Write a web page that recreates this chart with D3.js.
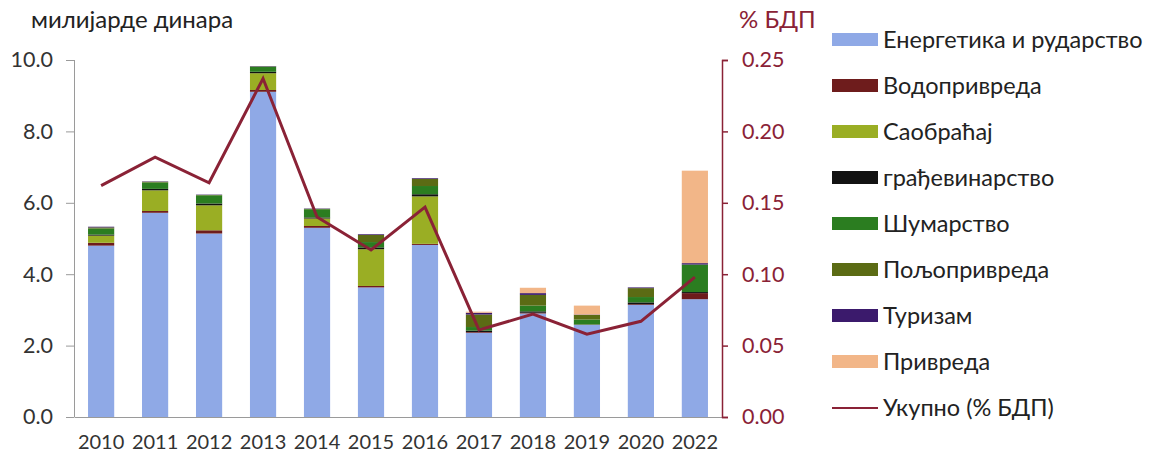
<!DOCTYPE html>
<html>
<head>
<meta charset="utf-8">
<script src="https://cdn.jsdelivr.net/npm/d3@7"></script>
<style>
  body { margin: 0; background: #fff; }
  text { font-family: Lato, "Open Sans", sans-serif; }
</style>
</head>
<body>
<div id="chart"></div>
<script>
// years on the x axis
var years = ["2010","2011","2012","2013","2014","2015","2016","2017","2018","2019","2020","2022"];

// series, milliards of dinars
var energetika   = [4.80, 5.72, 5.14, 9.11, 5.30, 3.63, 4.82, 2.36, 2.90, 2.58, 3.14, 3.30];
var vodoprivreda = [0.08, 0.05, 0.09, 0.05, 0.05, 0.04, 0.03, 0.02, 0.02, 0.01, 0.02, 0.17];
var saobracaj    = [0.20, 0.58, 0.70, 0.47, 0.21, 1.03, 1.33, 0.00, 0.00, 0.00, 0.00, 0.00];
var gradjevin    = [0.03, 0.04, 0.05, 0.04, 0.03, 0.05, 0.06, 0.04, 0.04, 0.00, 0.05, 0.03];
var sumarstvo    = [0.17, 0.18, 0.23, 0.14, 0.23, 0.15, 0.23, 0.10, 0.16, 0.14, 0.15, 0.77];
var poljopr      = [0.03, 0.02, 0.01, 0.01, 0.01, 0.20, 0.20, 0.35, 0.30, 0.13, 0.25, 0.00];
var turizam      = [0.02, 0.01, 0.01, 0.01, 0.01, 0.02, 0.02, 0.05, 0.05, 0.01, 0.02, 0.04];
var privreda     = [0.00, 0.00, 0.00, 0.00, 0.00, 0.00, 0.00, 0.03, 0.15, 0.25, 0.00, 2.59];

// total, % of GDP (right axis)
var ukupnoBDP    = [0.162, 0.182, 0.164, 0.237, 0.140, 0.117, 0.147, 0.061, 0.072, 0.058, 0.067, 0.098];

var leftTicks  = [0, 2, 4, 6, 8, 10];
var rightTicks = [0, 0.05, 0.10, 0.15, 0.20, 0.25];

var series = [
  {name: "Енергетика и рударство", values: energetika,   color: "#8fa9e6"},
  {name: "Водопривреда",           values: vodoprivreda, color: "#6e1c1c"},
  {name: "Саобраћај",              values: saobracaj,    color: "#9aae24"},
  {name: "грађевинарство",         values: gradjevin,    color: "#121212"},
  {name: "Шумарство",              values: sumarstvo,    color: "#2b7d20"},
  {name: "Пољопривреда",           values: poljopr,      color: "#5b6b14"},
  {name: "Туризам",                values: turizam,      color: "#3b1a6c"},
  {name: "Привреда",               values: privreda,     color: "#f2b688"}
];
var lineColor = "#8a2236";

var width = 1157, height = 461;
var margin = {top: 60, right: 435, bottom: 44, left: 74};
var innerW = width - margin.left - margin.right,
    innerH = height - margin.top - margin.bottom;

var svg = d3.select("#chart").append("svg")
    .attr("width", width)
    .attr("height", height);

var g = svg.append("g")
    .attr("transform", "translate(" + margin.left + "," + margin.top + ")");

var x = d3.scaleBand().domain(years).range([0, innerW]).paddingInner(0.515).paddingOuter(0.26);
var y = d3.scaleLinear().domain([0, 10]).range([innerH, 0]);
var y2 = d3.scaleLinear().domain([0, 0.25]).range([innerH, 0]);

// stack the series
var table = years.map(function (yr, i) {
  var row = {year: yr};
  series.forEach(function (s) { row[s.name] = s.values[i]; });
  return row;
});
var stack = d3.stack().keys(series.map(function (s) { return s.name; }));
var layers = stack(table);

g.selectAll("g.layer")
  .data(layers)
  .enter().append("g")
  .attr("class", "layer")
  .attr("fill", function (d, i) { return series[i].color; })
  .selectAll("rect")
  .data(function (d) { return d; })
  .enter().append("rect")
  .attr("x", function (d) { return x(d.data.year); })
  .attr("width", x.bandwidth())
  .attr("y", function (d) { return y(d[1]); })
  .attr("height", function (d) { return Math.max(0, y(d[0]) - y(d[1])); });

// left axis
var leftAxis = g.append("g")
  .call(d3.axisLeft(y).tickValues(leftTicks).tickFormat(d3.format(".1f")).tickSize(8).tickPadding(13));
leftAxis.select(".domain").attr("stroke", "#9a9a9a").attr("d", "M0.5," + innerH + "V0");
leftAxis.selectAll(".tick line").attr("stroke", "#9a9a9a");
leftAxis.selectAll(".tick text").attr("fill", "#333").style("font-size", "21.5px");

// bottom axis
var bottom = g.append("g")
  .attr("transform", "translate(0," + innerH + ")")
  .call(d3.axisBottom(x).tickSize(0).tickPadding(18));
bottom.select(".domain").attr("stroke", "#9a9a9a");
bottom.selectAll(".tick text").attr("fill", "#333").style("font-size", "20px");

// right axis
var rightAxis = g.append("g")
  .attr("transform", "translate(" + innerW + ",0)")
  .call(d3.axisRight(y2).tickValues(rightTicks).tickFormat(d3.format(".2f")).tickSize(6).tickPadding(14));
rightAxis.select(".domain").attr("stroke", lineColor).attr("stroke-width", 1.5);
rightAxis.selectAll(".tick line").attr("stroke", lineColor).attr("stroke-width", 1.5);
rightAxis.selectAll(".tick text").attr("fill", lineColor).style("font-size", "21.5px");

// total line
var line = d3.line()
  .x(function (d, i) { return x(years[i]) + x.bandwidth() / 2; })
  .y(function (d) { return y2(d); });
g.append("path")
  .datum(ukupnoBDP)
  .attr("fill", "none")
  .attr("stroke", lineColor)
  .attr("stroke-width", 3)
  .attr("stroke-linejoin", "miter")
  .attr("d", line);

// axis titles
svg.append("text")
  .attr("x", 31).attr("y", 28)
  .attr("fill", "#222")
  .style("font-size", "24px")
  .text("милијарде динара");
svg.append("text")
  .attr("x", 739).attr("y", 28)
  .attr("fill", lineColor)
  .style("font-size", "24px")
  .text("% БДП");

// legend
var legend = svg.append("g").attr("transform", "translate(832,40)");
var items = series.concat([{name: "Укупно (% БДП)", line: true, color: lineColor}]);
var row = legend.selectAll("g")
  .data(items)
  .enter().append("g")
  .attr("transform", function (d, i) { return "translate(0," + (i * 46) + ")"; });
row.each(function (d) {
  var r = d3.select(this);
  if (d.line) {
    r.append("line").attr("x1", 0).attr("x2", 46).attr("y1", 0).attr("y2", 0)
      .attr("stroke", d.color).attr("stroke-width", 2);
  } else {
    r.append("rect").attr("x", 0).attr("y", -7).attr("width", 46).attr("height", 13)
      .attr("fill", d.color);
  }
});
row.append("text")
  .attr("x", 51).attr("y", 0).attr("dy", "0.35em")
  .attr("fill", "#222")
  .style("font-size", "23.5px")
  .text(function (d) { return d.name; });
</script>
</body>
</html>
